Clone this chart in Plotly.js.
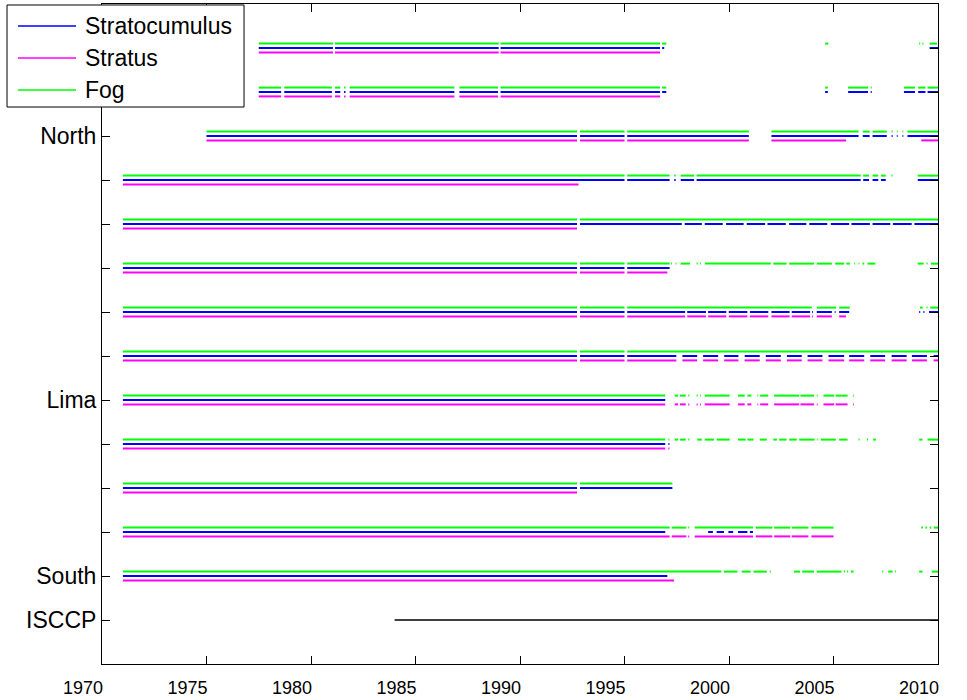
<!DOCTYPE html>
<html>
<head>
<meta charset="utf-8">
<script src="https://cdn.plot.ly/plotly-3.0.1.min.js"></script>
<style>html,body{margin:0;padding:0;background:#fff;}#chart{width:967px;height:700px;}</style>
</head>
<body>
<div id="chart"></div>
<script>
// Row positions (top to bottom) and tick labels
const rowPos = [1,2,3,4,5,6,7,8,9,10,11,12,13,14];
const rowLabels = ['', '', 'North', '', '', '', '', '', 'Lima', '', '', '', 'South', 'ISCCP'];
const xTicks = [1970,1975,1980,1985,1990,1995,2000,2005,2010];
const seriesNames = ['Stratocumulus', 'Stratus', 'Fog'];
const seriesColors = ['#0000ff', '#ff00ff', '#00ff00'];

// Data availability segments, as [start, end] year pairs, per row and cloud type
const r01Sc  = [[1977.5,1981.05],[1981.15,1988.98],[1989.07,1996.7],[1996.8,1996.9],[2009.6,2010]];
const r01St  = [[1977.5,1981.05],[1981.15,1988.98],[1989.07,1996.7]];
const r01Fog = [[1977.5,1981.05],[1981.15,1988.98],[1989.07,1996.7],[1996.8,1997.0],[2004.6,2004.75],[2009.1,2009.15],[2009.25,2009.3],[2009.6,2009.95]];

const r02Sc  = [[1977.5,1978.57],[1978.72,1981.0],[1981.15,1981.4],[1981.58,1981.65],[1981.85,1986.86],[1987.1,1988.95],[1989.07,1996.7],[1996.8,1997.0],[2004.6,2004.73],[2005.7,2006.65],[2006.78,2006.83],[2008.37,2008.9],[2009.05,2009.4],[2009.5,2010]];
const r02St  = [[1977.5,1978.57],[1978.72,1981.0],[1981.15,1981.4],[1981.58,1981.65],[1981.85,1986.86],[1987.1,1988.95],[1989.07,1996.7]];
const r02Fog = [[1977.5,1978.57],[1978.72,1981.0],[1981.15,1981.4],[1981.58,1981.65],[1981.85,1986.86],[1987.1,1988.95],[1989.07,1996.7],[1996.8,1997.0],[2004.6,2004.73],[2005.7,2006.65],[2006.78,2006.83],[2008.37,2008.9],[2009.05,2009.4],[2009.5,2010]];

const r03Sc  = [[1975,1992.73],[1992.87,1995.0],[1995.13,2000.95],[2002.03,2006.2],[2006.4,2006.73],[2006.87,2007.55],[2007.78,2007.83],[2008.03,2008.07],[2008.3,2008.34],[2008.54,2010]];
const r03St  = [[1975,1992.73],[1992.87,1995.0],[1995.13,2000.95],[2002.03,2005.6],[2009.2,2010]];
const r03Fog = [[1975,1992.73],[1992.87,1995.0],[1995.13,2000.95],[2002.03,2006.2],[2006.4,2006.73],[2006.87,2007.55],[2007.78,2007.83],[2008.03,2008.07],[2008.3,2008.34],[2008.54,2010]];

const r04Sc  = [[1971,1995.0],[1995.13,1997.16],[1997.38,1997.45],[1997.69,1998.33],[1998.45,2006.3],[2006.42,2006.7],[2006.87,2007.14],[2007.27,2007.5],[2009.03,2010]];
const r04St  = [[1971,1992.8]];
const r04Fog = [[1971,1995.0],[1995.13,1997.16],[1997.38,1997.45],[1997.69,1998.33],[1998.45,2006.3],[2006.42,2006.7],[2006.87,2007.14],[2007.27,2007.5],[2007.78,2007.83],[2009.03,2010]];

const r05Sc  = [[1971,1992.73],[1992.87,1997.74],[1997.88,1998.7],[1998.84,1999.7],[1999.86,2000.7],[2000.85,2001.73],[2001.84,2002.72],[2002.88,2003.7],[2003.84,2004.7],[2004.87,2005.75],[2005.86,2006.74],[2006.87,2007.72],[2007.84,2008.74],[2008.87,2010]];
const r05St  = [[1971,1992.73]];
const r05Fog = [[1971,1992.73],[1992.87,2010]];

const r06Sc  = [[1971,1992.73],[1992.87,1995.0],[1995.13,1997.16]];
const r06St  = [[1971,1992.73],[1992.87,1995.0],[1995.13,1997.05]];
const r06Fog = [[1971,1992.73],[1992.87,1995.0],[1995.13,1997.16],[1997.23,1997.27],[1997.44,1997.48],[1997.69,1998.13],[1998.45,1998.5],[1998.62,1998.66],[1998.85,2002.0],[2002.12,2002.75],[2002.88,2004.07],[2004.2,2004.92],[2005.08,2005.51],[2005.62,2005.78],[2005.98,2006.02],[2006.2,2006.24],[2006.39,2006.47],[2006.63,2007.0],[2009.03,2009.31],[2009.45,2009.5],[2009.66,2010]];

const r07Sc  = [[1971,1992.73],[1992.87,1995.0],[1995.13,1997.9],[1998.0,1998.9],[1999.0,1999.87],[1999.99,2000.88],[2001.0,2001.88],[2002.03,2002.9],[2003.0,2003.88],[2003.98,2004.02],[2004.2,2004.92],[2005.06,2005.1],[2005.27,2005.75],[2009.1,2009.15],[2009.3,2009.35],[2009.57,2010]];
const r07St  = [[1971,1992.73],[1992.87,1995.0],[1995.13,1997.9],[1998.0,1998.9],[1999.0,1999.87],[1999.99,2000.88],[2001.0,2001.88],[2002.03,2002.9],[2003.0,2003.88],[2003.98,2004.02],[2004.2,2004.92],[2005.27,2005.6]];
const r07Fog = [[1971,1992.73],[1992.87,1995.0],[1995.13,2003.96],[2004.2,2005.13],[2005.27,2005.78],[2009.14,2009.27],[2009.45,2009.5],[2009.63,2010]];

const r08Sc  = [[1971,1992.73],[1992.87,1995.0],[1995.13,1997.48],[1997.77,1998.48],[1998.76,1999.48],[1999.77,2000.45],[2000.75,2001.47],[2001.76,2002.48],[2002.77,2003.48],[2003.76,2004.47],[2004.76,2005.51],[2005.75,2006.47],[2006.76,2007.47],[2007.78,2008.5],[2008.75,2009.47],[2009.79,2010]];
const r08St  = [[1971,1992.73],[1992.87,1995.0],[1995.13,1997.48],[1997.77,1998.48],[1998.76,1999.48],[1999.77,2000.45],[2000.75,2001.47],[2001.76,2002.48],[2002.77,2003.48],[2003.76,2004.47],[2004.76,2005.51],[2005.75,2006.47],[2006.76,2007.47],[2007.78,2008.5],[2008.75,2009.47],[2009.79,2010]];
const r08Fog = [[1971,1992.73],[1992.87,1995.0],[1995.13,2010]];

const r09Sc  = [[1971,1996.95]];
const r09St  = [[1971,1996.95],[1997.4,1997.56],[1997.65,1997.93],[1998.05,1998.1],[1998.45,1998.5],[1998.62,1998.66],[1998.84,2000.03],[2000.43,2000.75],[2000.88,2001.07],[2001.36,2001.4],[2001.49,2001.88],[2002.16,2003.36],[2003.42,2004.07],[2004.2,2004.24],[2004.52,2005.03],[2005.1,2005.67],[2005.93,2005.97]];
const r09Fog = [[1971,1996.95],[1997.4,1997.56],[1997.65,1997.93],[1998.05,1998.1],[1998.45,1998.5],[1998.62,1998.66],[1998.84,2000.03],[2000.43,2000.75],[2000.88,2001.07],[2001.36,2001.4],[2001.49,2001.88],[2002.16,2003.36],[2003.42,2004.07],[2004.2,2004.24],[2004.52,2005.03],[2005.1,2005.67],[2005.93,2005.97]];

const r10Sc  = [[1971,1996.95],[1997.1,1997.15]];
const r10St  = [[1971,1996.95],[1997.1,1997.15]];
const r10Fog = [[1971,1996.95],[1997.1,1997.15],[1997.4,1997.56],[1997.65,1997.93],[1998.05,1998.1],[1998.48,1998.7],[1998.84,1999.28],[1999.41,2000.03],[2000.43,2000.8],[2000.88,2001.17],[2001.47,2001.81],[2002.12,2002.29],[2002.4,2002.75],[2002.88,2003.24],[2003.36,2004.1],[2004.2,2004.24],[2004.39,2005.11],[2005.27,2005.67],[2006.2,2006.25],[2006.6,2006.65],[2006.9,2007.03],[2009.1,2009.26],[2009.5,2010]];

const r11Sc  = [[1971,1992.73],[1992.87,1997.29]];
const r11St  = [[1971,1992.73]];
const r11Fog = [[1971,1992.73],[1992.87,1997.29]];

const r12Sc  = [[1971,1996.95],[1999.0,1999.23],[1999.41,1999.76],[1999.97,2000.2],[2000.43,2000.88],[2001.0,2001.15]];
const r12St  = [[1971,1997.16],[1997.26,1997.96],[1998.05,1998.1],[1998.36,2001.15],[2001.28,2002.08],[2002.16,2002.93],[2003.0,2003.8],[2003.94,2005.0]];
const r12Fog = [[1971,1997.16],[1997.26,1997.96],[1998.05,1998.1],[1998.36,2001.15],[2001.28,2002.08],[2002.16,2002.93],[2003.0,2003.8],[2003.94,2005.0],[2009.2,2009.28],[2009.4,2009.48],[2009.6,2009.68],[2009.8,2010]];

const r13Sc  = [[1971,1997.05]];
const r13St  = [[1971,1997.37]];
const r13Fog = [[1971,1999.63],[1999.76,2000.4],[2000.61,2001.04],[2001.17,2001.81],[2001.95,2002.0],[2003.11,2003.4],[2003.5,2004.07],[2004.2,2005.38],[2005.5,2005.55],[2005.65,2005.7],[2005.83,2005.96],[2007.33,2007.38],[2007.62,2007.83],[2007.94,2007.98],[2009.1,2009.26],[2009.7,2010]];

const isccp = [[1984,2010]];

const scRows  = [r01Sc,r02Sc,r03Sc,r04Sc,r05Sc,r06Sc,r07Sc,r08Sc,r09Sc,r10Sc,r11Sc,r12Sc,r13Sc];
const stRows  = [r01St,r02St,r03St,r04St,r05St,r06St,r07St,r08St,r09St,r10St,r11St,r12St,r13St];
const fogRows = [r01Fog,r02Fog,r03Fog,r04Fog,r05Fog,r06Fog,r07Fog,r08Fog,r09Fog,r10Fog,r11Fog,r12Fog,r13Fog];

function build(rows, offset, startIndex) {
  const x = [], y = [];
  rows.forEach((segs, i) => {
    const yy = rowPos[startIndex + i] + offset;
    segs.forEach(s => { x.push(s[0], s[1], null); y.push(yy, yy, null); });
  });
  return {x, y};
}

const sc = build(scRows, 0, 0);
const st = build(stRows, 0.1, 0);
const fog = build(fogRows, -0.1, 0);
const isc = build([isccp], 0, 13);

const traces = [
  {type:'scatter', mode:'lines', name:seriesNames[0], x: sc.x, y: sc.y, line:{color:seriesColors[0], width:2}, connectgaps:false, hoverinfo:'skip', showlegend:false},
  {type:'scatter', mode:'lines', name:seriesNames[1], x: st.x, y: st.y, line:{color:seriesColors[1], width:2}, connectgaps:false, hoverinfo:'skip', showlegend:false},
  {type:'scatter', mode:'lines', name:seriesNames[2], x: fog.x, y: fog.y, line:{color:seriesColors[2], width:2}, connectgaps:false, hoverinfo:'skip', showlegend:false},
  {type:'scatter', mode:'lines', name:'ISCCP', x: isc.x, y: isc.y, line:{color:'#000000', width:1.5}, showlegend:false, connectgaps:false, hoverinfo:'skip'}
];

// Legend box drawn in paper coordinates (top-left, overlapping the axes like the original)
const L = {x0:-0.1136, x1:0.1699, y0:0.8439, y1:0.9985, lineX0:-0.1005, lineX1:-0.0311, textX:-0.0227, rowsY:[0.9667,0.9182,0.8697]};
const shapes = [{type:'rect', xref:'paper', yref:'paper', x0:L.x0, x1:L.x1, y0:L.y0, y1:L.y1, line:{color:'#000', width:1}, fillcolor:'#ffffff', layer:'above'}];
const annotations = [];
seriesNames.forEach((n, i) => {
  shapes.push({type:'line', xref:'paper', yref:'paper', x0:L.lineX0, x1:L.lineX1, y0:L.rowsY[i], y1:L.rowsY[i], line:{color:seriesColors[i], width:1.5}, layer:'above'});
  annotations.push({xref:'paper', yref:'paper', x:L.textX, y:L.rowsY[i], xanchor:'left', yanchor:'middle', text:n, showarrow:false, font:{size:23, color:'#000'}});
});

const layout = {
  width: 967, height: 700,
  margin: {l:102, r:29, t:4, b:36},
  paper_bgcolor:'#ffffff', plot_bgcolor:'#ffffff',
  font: {family:'Liberation Sans, Arial, sans-serif', color:'#000000'},
  showlegend: false,
  shapes: shapes,
  annotations: annotations,
  xaxis: {
    range:[1970,2010], tickvals: xTicks, ticktext: xTicks.map(String),
    ticks:'inside', ticklen:8, tickwidth:1, tickcolor:'#000',
    showline:true, linecolor:'#000', linewidth:1, mirror:'ticks',
    showgrid:false, zeroline:false,
    tickfont:{size:18}, ticklabelshift:-19, ticklabelstandoff:7
  },
  yaxis: {
    range:[15,0], tickvals: rowPos, ticktext: rowLabels,
    ticks:'inside', ticklen:8, tickwidth:1, tickcolor:'#000',
    showline:true, linecolor:'#000', linewidth:1, mirror:'ticks',
    showgrid:false, zeroline:false,
    tickfont:{size:23}
  }
};

Plotly.newPlot('chart', traces, layout, {staticPlot:true, displayModeBar:false});
</script>
</body>
</html>
